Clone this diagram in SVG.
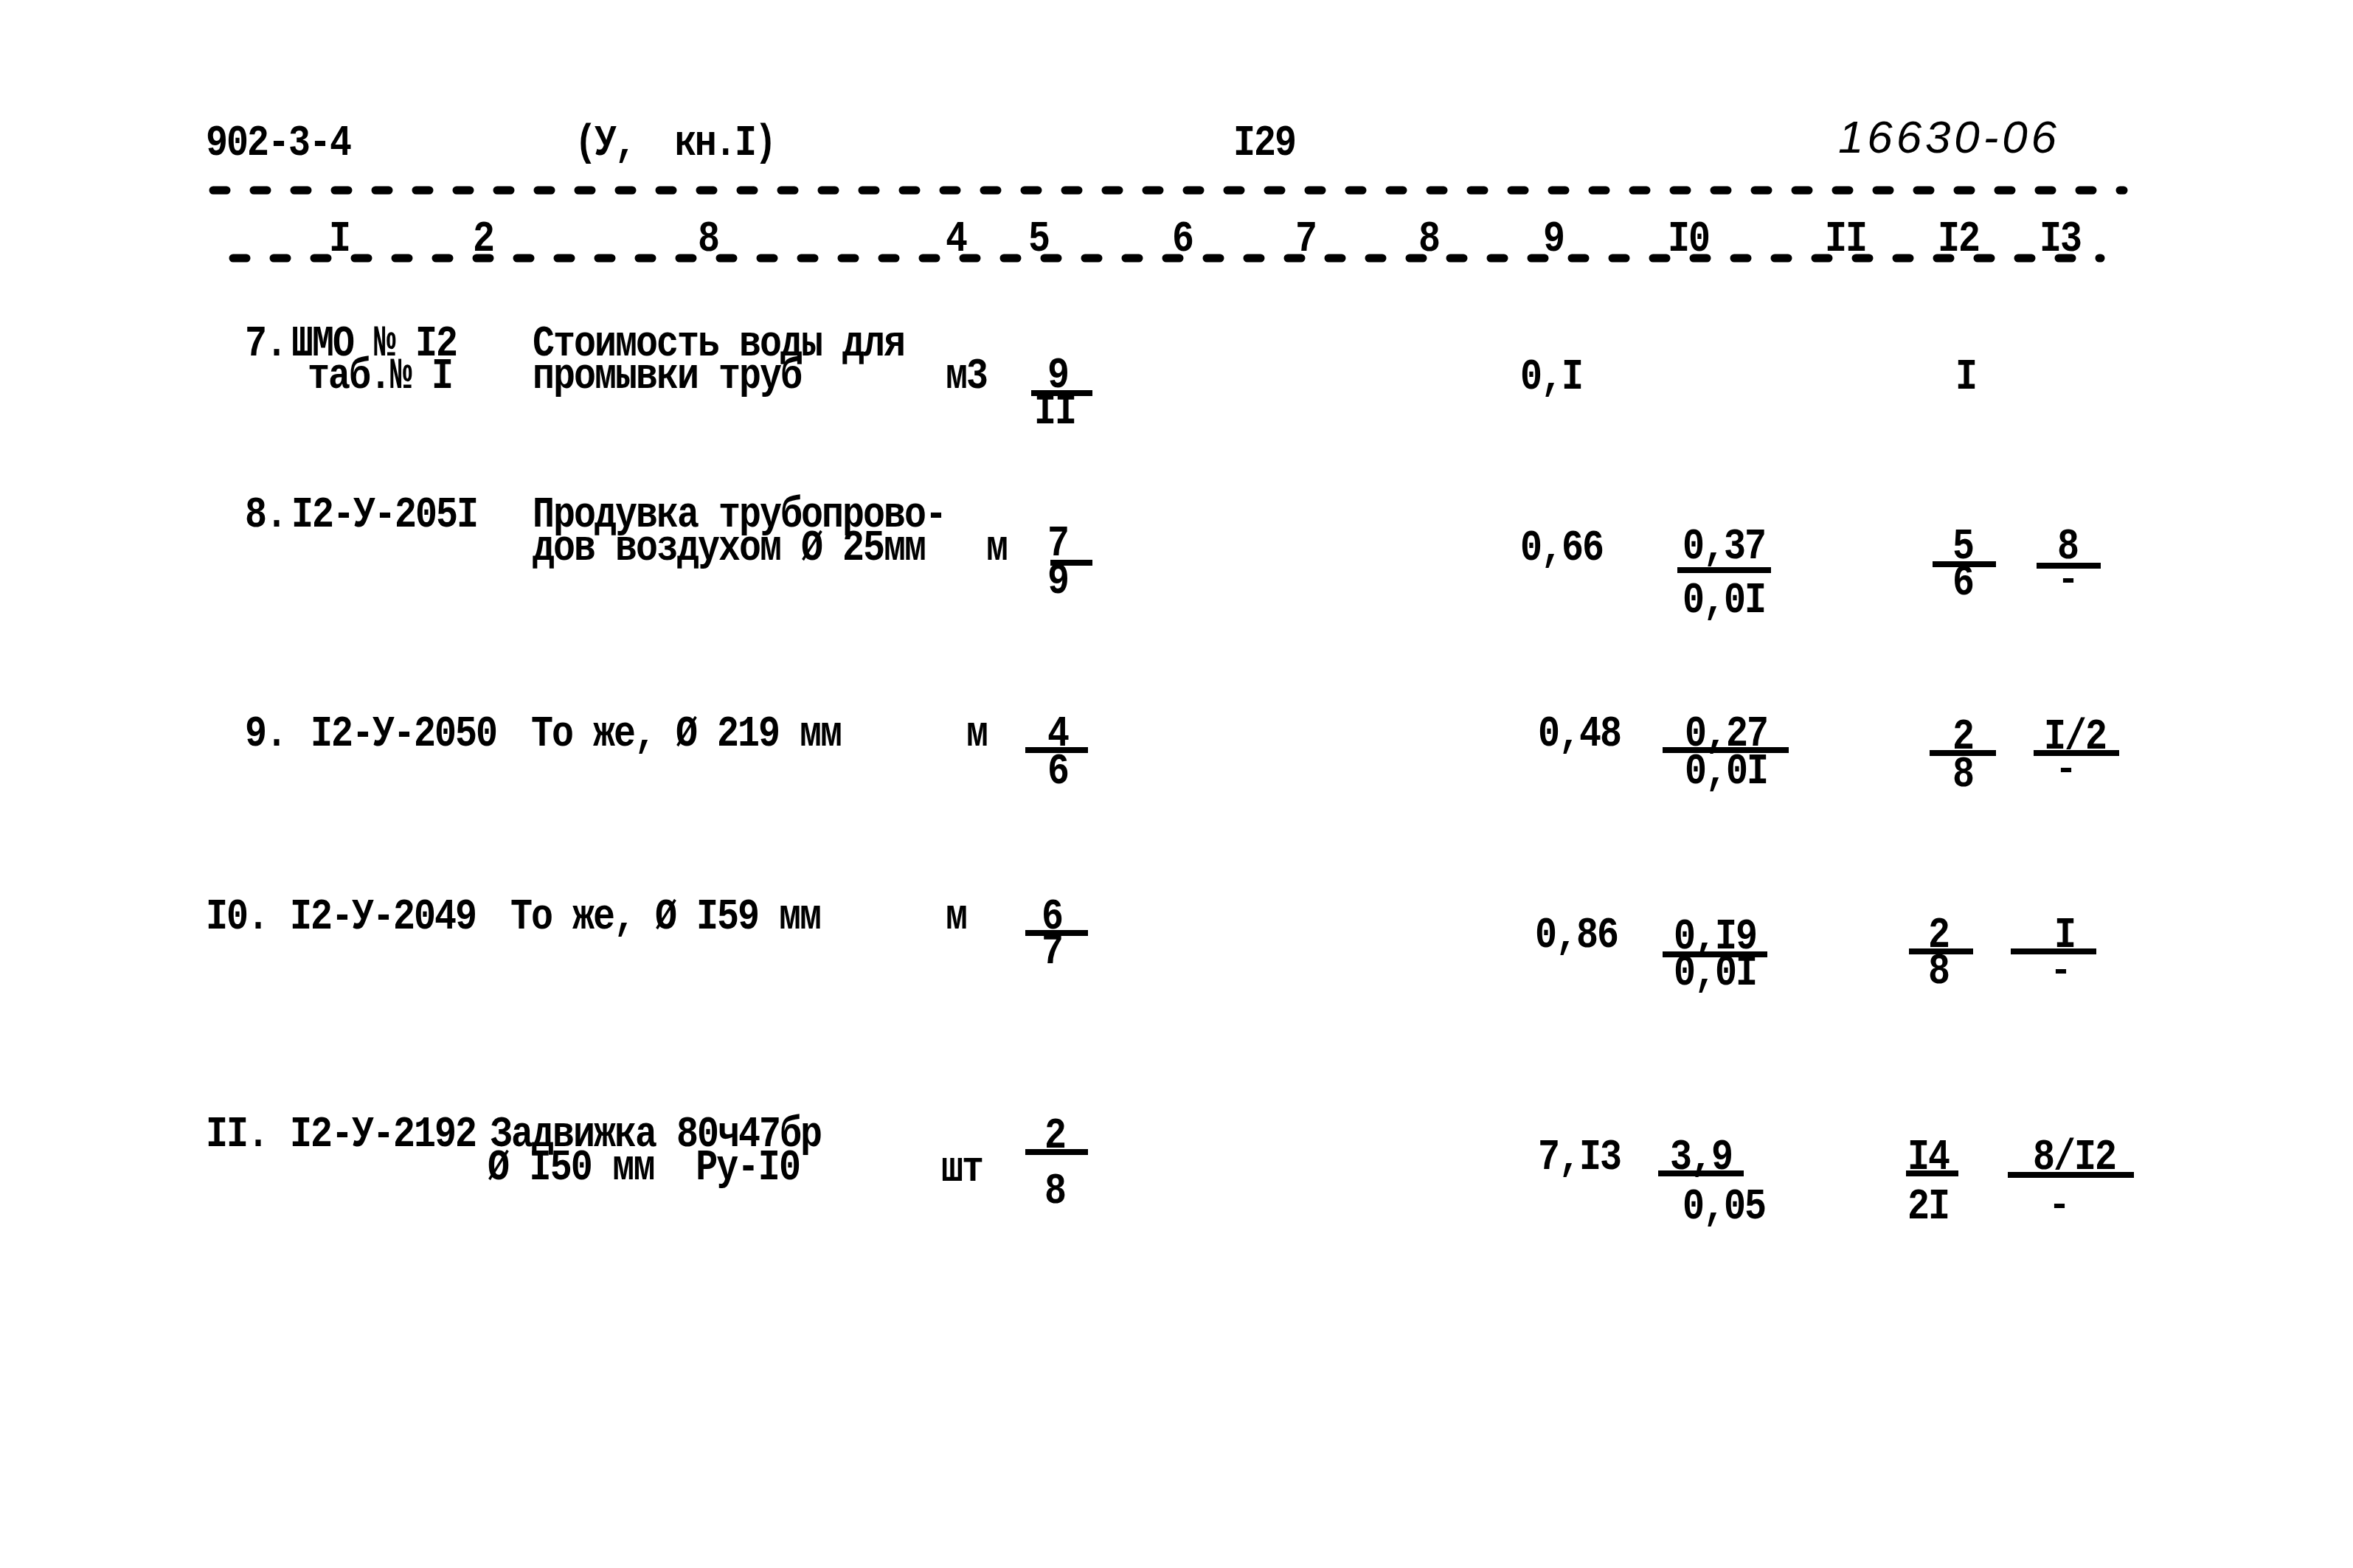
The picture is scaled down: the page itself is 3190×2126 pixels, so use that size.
<svg xmlns="http://www.w3.org/2000/svg" width="3190" height="2126" viewBox="0 0 3190 2126">
<style>
.t{font-family:"Liberation Mono","DejaVu Sans Mono",monospace;font-weight:bold;font-size:50px;letter-spacing:-2px;fill:#000;white-space:pre}
.h{font-family:"Liberation Sans",sans-serif;font-style:italic;font-size:62px;fill:#000}
.c{text-anchor:middle}
.dash{stroke:#000;stroke-width:11;stroke-dasharray:18 37;stroke-linecap:round;fill:none}
.fl{stroke:#000;stroke-width:8;fill:none}
</style>
<rect width="3190" height="2126" fill="#fff"/>
<g id="header">
<text class="t" transform="translate(279,210) scale(1,1.2)">902-3-4</text>
<text class="t" xml:space="preserve" transform="translate(779,210) scale(1,1.2)" textLength="272">(У,  кн.I)</text>
<text class="t" transform="translate(1672,210) scale(1,1.2)">I29</text>
<text class="h" x="2492" y="207" textLength="296">16630-06</text>
</g>
<g id="rules">
<line class="dash" x1="289" y1="258" x2="2879" y2="258"/>
<line class="dash" x1="316" y1="350" x2="2848" y2="350"/>
</g>
<g id="colnums">
<text class="t c" transform="translate(460,340) scale(1,1.2)">I</text>
<text class="t c" transform="translate(655,340) scale(1,1.2)">2</text>
<text class="t c" transform="translate(960,340) scale(1,1.2)">8</text>
<text class="t c" transform="translate(1296,340) scale(1,1.2)">4</text>
<text class="t c" transform="translate(1408,340) scale(1,1.2)">5</text>
<text class="t c" transform="translate(1603,340) scale(1,1.2)">6</text>
<text class="t c" transform="translate(1770,340) scale(1,1.2)">7</text>
<text class="t c" transform="translate(1937,340) scale(1,1.2)">8</text>
<text class="t c" transform="translate(2106,340) scale(1,1.2)">9</text>
<text class="t c" transform="translate(2289,340) scale(1,1.2)">I0</text>
<text class="t c" transform="translate(2502,340) scale(1,1.2)">II</text>
<text class="t c" transform="translate(2655,340) scale(1,1.2)">I2</text>
<text class="t c" transform="translate(2793,340) scale(1,1.2)">I3</text>
</g>
<g id="row7">
<text class="t" transform="translate(332,482) scale(1,1.2)">7.</text>
<text class="t" xml:space="preserve" transform="translate(395,482) scale(1,1.2)">ШМО № I2</text>
<text class="t" transform="translate(417,526) scale(1,1.2)">таб.№ I</text>
<text class="t" transform="translate(722,482) scale(1,1.2)">Стоимость воды для</text>
<text class="t" transform="translate(722,526) scale(1,1.2)">промывки труб</text>
<text class="t" transform="translate(1282,526) scale(1,1.2)">м3</text>
<text class="t c" transform="translate(1434,525) scale(1,1.2)">9</text>
<line class="fl" x1="1398" y1="533" x2="1481" y2="533"/>
<text class="t c" transform="translate(1430,574) scale(1,1.2)">II</text>
<text class="t" transform="translate(2061,527) scale(1,1.2)">0,I</text>
<text class="t c" transform="translate(2665,527) scale(1,1.2)">I</text>
</g>
<g id="row8">
<text class="t" transform="translate(332,714) scale(1,1.2)">8.</text>
<text class="t" transform="translate(395,714) scale(1,1.2)">I2-У-205I</text>
<text class="t" transform="translate(722,714) scale(1,1.2)">Продувка трубопрово-</text>
<text class="t" transform="translate(722,759) scale(1,1.2)">дов воздухом Ø 25мм</text>
<text class="t" transform="translate(1337,759) scale(1,1.2)">м</text>
<text class="t c" transform="translate(1434,753) scale(1,1.2)">7</text>
<line class="fl" x1="1424" y1="763" x2="1481" y2="763"/>
<text class="t c" transform="translate(1434,804) scale(1,1.2)">9</text>
<text class="t" transform="translate(2061,759) scale(1,1.2)">0,66</text>
<text class="t c" transform="translate(2337,757) scale(1,1.2)">0,37</text>
<line class="fl" x1="2274" y1="773" x2="2401" y2="773"/>
<text class="t c" transform="translate(2337,830) scale(1,1.2)">0,0I</text>
<text class="t c" transform="translate(2661,757) scale(1,1.2)">5</text>
<line class="fl" x1="2620" y1="765" x2="2706" y2="765"/>
<text class="t c" transform="translate(2661,806) scale(1,1.2)">6</text>
<text class="t c" transform="translate(2803,757) scale(1,1.2)">8</text>
<line class="fl" x1="2761" y1="767" x2="2848" y2="767"/>
<text class="t c" transform="translate(2803,800)">-</text>
</g>
<g id="row9">
<text class="t" transform="translate(332,1011) scale(1,1.2)">9.</text>
<text class="t" transform="translate(421,1011) scale(1,1.2)">I2-У-2050</text>
<text class="t" transform="translate(720,1011) scale(1,1.2)">То же, Ø 219 мм</text>
<text class="t" transform="translate(1310,1011) scale(1,1.2)">м</text>
<text class="t c" transform="translate(1434,1011) scale(1,1.2)">4</text>
<line class="fl" x1="1390" y1="1017" x2="1475" y2="1017"/>
<text class="t c" transform="translate(1434,1062) scale(1,1.2)">6</text>
<text class="t" transform="translate(2085,1011) scale(1,1.2)">0,48</text>
<text class="t c" transform="translate(2340,1011) scale(1,1.2)">0,27</text>
<line class="fl" x1="2254" y1="1017" x2="2425" y2="1017"/>
<text class="t c" transform="translate(2340,1062) scale(1,1.2)">0,0I</text>
<text class="t c" transform="translate(2661,1015) scale(1,1.2)">2</text>
<line class="fl" x1="2616" y1="1021" x2="2706" y2="1021"/>
<text class="t c" transform="translate(2661,1066) scale(1,1.2)">8</text>
<text class="t c" transform="translate(2813,1015) scale(1,1.2)">I/2</text>
<line class="fl" x1="2757" y1="1021" x2="2873" y2="1021"/>
<text class="t c" transform="translate(2800,1057)">-</text>
</g>
<g id="row10">
<text class="t" transform="translate(279,1259) scale(1,1.2)">I0.</text>
<text class="t" transform="translate(393,1259) scale(1,1.2)">I2-У-2049</text>
<text class="t" transform="translate(692,1259) scale(1,1.2)">То же, Ø I59 мм</text>
<text class="t" transform="translate(1282,1259) scale(1,1.2)">м</text>
<text class="t c" transform="translate(1426,1259) scale(1,1.2)">6</text>
<line class="fl" x1="1390" y1="1265" x2="1475" y2="1265"/>
<text class="t c" transform="translate(1426,1306) scale(1,1.2)">7</text>
<text class="t" transform="translate(2081,1284) scale(1,1.2)">0,86</text>
<text class="t c" transform="translate(2325,1286) scale(1,1.2)">0,I9</text>
<line class="fl" x1="2254" y1="1294" x2="2396" y2="1294"/>
<text class="t c" transform="translate(2325,1335) scale(1,1.2)">0,0I</text>
<text class="t c" transform="translate(2628,1284) scale(1,1.2)">2</text>
<line class="fl" x1="2588" y1="1290" x2="2675" y2="1290"/>
<text class="t c" transform="translate(2628,1333) scale(1,1.2)">8</text>
<text class="t c" transform="translate(2799,1284) scale(1,1.2)">I</text>
<line class="fl" x1="2726" y1="1290" x2="2842" y2="1290"/>
<text class="t c" transform="translate(2793,1330)">-</text>
</g>
<g id="row11">
<text class="t" transform="translate(279,1554) scale(1,1.2)">II.</text>
<text class="t" transform="translate(393,1554) scale(1,1.2)">I2-У-2192</text>
<text class="t" transform="translate(665,1554) scale(1,1.2)">Задвижка 80ч47бр</text>
<text class="t" xml:space="preserve" transform="translate(661,1599) scale(1,1.2)" textLength="423">Ø I50 мм  Ру-I0</text>
<text class="t" transform="translate(1276,1601) scale(1,1.2)">шт</text>
<text class="t c" transform="translate(1430,1556) scale(1,1.2)">2</text>
<line class="fl" x1="1390" y1="1562" x2="1475" y2="1562"/>
<text class="t c" transform="translate(1430,1631) scale(1,1.2)">8</text>
<text class="t" transform="translate(2085,1585) scale(1,1.2)">7,I3</text>
<text class="t c" transform="translate(2306,1585) scale(1,1.2)">3,9</text>
<line class="fl" x1="2248" y1="1591" x2="2364" y2="1591"/>
<text class="t c" transform="translate(2337,1652) scale(1,1.2)">0,05</text>
<text class="t c" transform="translate(2614,1585) scale(1,1.2)">I4</text>
<line class="fl" x1="2584" y1="1591" x2="2655" y2="1591"/>
<text class="t c" transform="translate(2614,1652) scale(1,1.2)">2I</text>
<text class="t c" transform="translate(2812,1585) scale(1,1.2)">8/I2</text>
<line class="fl" x1="2722" y1="1593" x2="2893" y2="1593"/>
<text class="t c" transform="translate(2791,1648)">-</text>
</g>
</svg>
